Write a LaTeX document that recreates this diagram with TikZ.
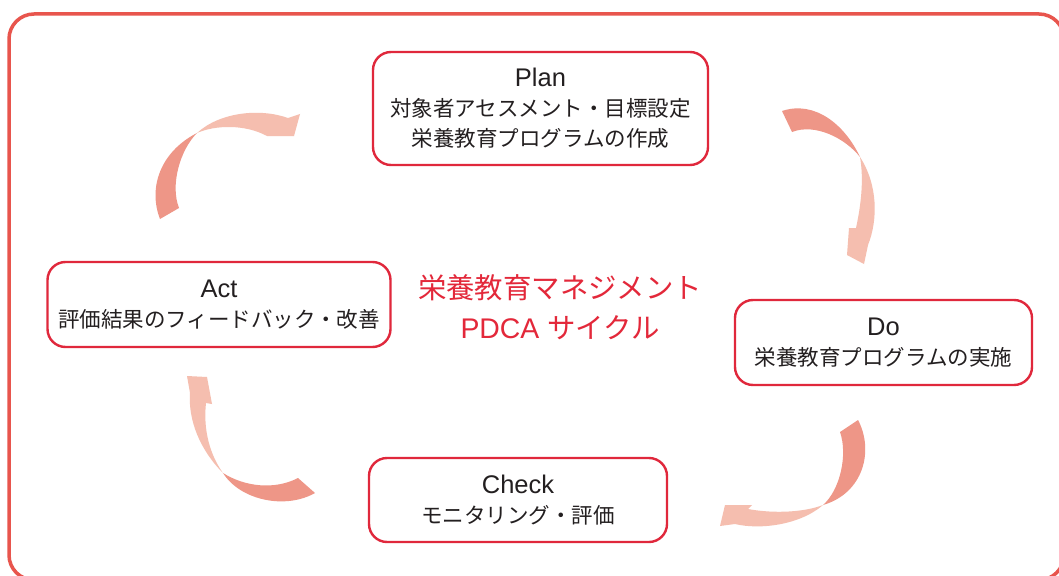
\documentclass[tikz,border=0pt]{standalone}
\usepackage{fontspec}
\setmainfont{Liberation Sans}
\newfontfamily\jp{Noto Sans CJK JP}
\definecolor{framered}{HTML}{E8554D}
\definecolor{boxred}{HTML}{E0283C}
\definecolor{titlered}{HTML}{E3283A}
\definecolor{arrdark}{HTML}{EE9687}
\definecolor{arrlight}{HTML}{F5BEAF}
\definecolor{txt}{HTML}{231F20}
\newcommand{\hd}[1]{{\fontsize{25.5}{30}\selectfont #1}}
\begin{document}
\begin{tikzpicture}[x=1pt,y=-1pt,
  stagebox/.style={draw=boxred, line width=2.4pt, rounded corners=18pt, fill=white,
    align=center, inner sep=0pt, text=txt, font=\fontsize{21.5}{30}\selectfont},
  darkpart/.style={fill=arrdark},
  lightpart/.style={fill=arrlight}]
\useasboundingbox (0,0) rectangle (1059,575);
\fill[white] (0,0) rectangle (1059,575);
\draw[framered, line width=3.5pt, rounded corners=25pt] (9,14) rectangle (1064,580);

% boxes
\node[stagebox, minimum width=335pt, minimum height=113pt] (plan) at (540.5,108.5)
  {\hd{Plan}\\{\jp 対象者アセスメント・目標設定}\\{\jp 栄養教育プログラムの作成}};
\node[stagebox, minimum width=343pt, minimum height=85pt] (act) at (219,304.5)
  {\hd{Act}\\{\jp 評価結果のフィードバック・改善}};
\node[stagebox, minimum width=297pt, minimum height=85pt] (do) at (883.5,342.5)
  {\hd{Do}\\{\jp 栄養教育プログラムの実施}};
\node[stagebox, minimum width=298pt, minimum height=84pt] (check) at (518,500)
  {\hd{Check}\\{\jp モニタリング・評価}};

% title
\node[text=titlered, align=center, font=\fontsize{28.4}{40}\selectfont] (title) at (560,307)
  {{\jp 栄養教育マネジメント}\\PDCA {\jp サイクル}};

% arrow 1: Act -> Plan (top-left)
\fill[darkpart] (160,219) .. controls (148,188) and (160,152) .. (197,133)
  .. controls (180,150) and (170,185) .. (179,208) -- cycle;
\fill[lightpart] (197,133) .. controls (220,112) and (260,108) .. (288,118)
  -- (300,114) -- (294,136) -- (267,136)
  .. controls (245,124) and (215,125) .. (197,133) -- cycle;

% arrow 2: Plan -> Do (top-right)
\fill[darkpart] (782,111) .. controls (815,100) and (845,125) .. (860,157)
  .. controls (845,138) and (815,123) .. (792,132) -- cycle;
\fill[lightpart] (860,157) .. controls (878,185) and (878,220) .. (868,245)
  -- (864,264) -- (847,255) -- (849,228) -- (856,228)
  .. controls (861,205) and (864,180) .. (860,157) -- cycle;

% arrow 3: Do -> Check (bottom-right)
\fill[darkpart] (858,420) .. controls (874,450) and (864,493) .. (823,505)
  .. controls (840,490) and (848,455) .. (840,432) -- cycle;
\fill[lightpart] (823,505) .. controls (800,525) and (760,530) .. (735,524)
  -- (720,526) -- (725,505) -- (752,505) -- (748,509)
  .. controls (775,514) and (805,512) .. (823,505) -- cycle;

% arrow 4: Check -> Act (bottom-left)
\fill[darkpart] (315,493) .. controls (285,510) and (240,500) .. (223,473)
  .. controls (245,487) and (275,490) .. (298,478) -- cycle;
\fill[lightpart] (223,473) .. controls (200,450) and (188,420) .. (190,393)
  -- (187,376) -- (207,377) -- (212,404) -- (206,403)
  .. controls (203,430) and (210,455) .. (223,473) -- cycle;
\end{tikzpicture}
\end{document}
